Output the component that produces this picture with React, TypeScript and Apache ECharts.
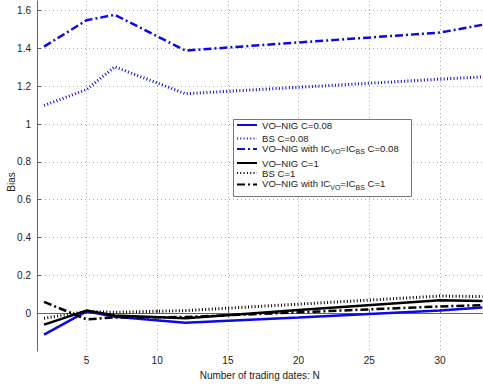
import React, { useEffect, useRef } from "react";
import * as echarts from "echarts";

const N = [2, 5, 7, 12, 20, 30, 33];
const voNig008 = [-0.113, 0.01, -0.018, -0.05, -0.022, 0.015, 0.03];
const bs008 = [1.098, 1.182, 1.302, 1.16, 1.194, 1.237, 1.249];
const voNigIC008 = [1.409, 1.548, 1.577, 1.388, 1.431, 1.483, 1.524];
const voNig1 = [-0.06, 0.014, -0.012, -0.026, 0.017, 0.069, 0.065];
const bs1 = [-0.026, 0.009, 0.005, 0.014, 0.048, 0.091, 0.088];
const voNigIC1 = [0.06, -0.032, -0.022, -0.02, 0.005, 0.036, 0.043];

const xTicks = [5, 10, 15, 20, 25, 30];
const yTicks = [0, 0.2, 0.4, 0.6, 0.8, 1, 1.2, 1.4, 1.6];

const names = [
  "VO–NIG C=0.08",
  "BS C=0.08",
  "VO–NIG with IC_VO=IC_BS C=0.08",
  "VO–NIG C=1",
  "BS C=1",
  "VO–NIG with IC_VO=IC_BS C=1",
];

const BLUE = "#0a0ae6";
const BLACK = "#000000";
const FONT = "Liberation Sans, Arial, Helvetica, sans-serif";

const dashDot = [8, 3, 2, 3];
const dotted = [1, 2.3];

function pairs(vals: number[]) {
  return N.map((n, i) => [n, vals[i]]);
}

export default function App() {
  const ref = useRef<HTMLDivElement>(null);
  useEffect(() => {
    if (!ref.current) return;
    const chart = echarts.init(ref.current, undefined, { renderer: "svg" });
    const styles = [
      { color: BLUE, type: "solid", width: 2.5 },
      { color: BLUE, type: dotted, width: 3 },
      { color: BLUE, type: dashDot, width: 2.5 },
      { color: BLACK, type: "solid", width: 2.5 },
      { color: BLACK, type: dotted, width: 3 },
      { color: BLACK, type: dashDot, width: 2.5 },
    ];
    const datas = [voNig008, bs008, voNigIC008, voNig1, bs1, voNigIC1];
    const series = datas.map((d, i) => ({
      name: names[i],
      type: "line",
      data: pairs(d),
      showSymbol: false,
      symbol: "none",
      lineStyle: styles[i],
      itemStyle: { color: styles[i].color },
      z: 2,
    }));
    // main text centre of each legend row
    const legendCenters = [125, 138.5, 149, 163, 173, 184.5];
    const legends = names.map((nm, i) => {
      const hasSub = nm.includes("_");
      return {
        show: true,
        orient: "vertical",
        left: 236,
        top: legendCenters[i] - 6,
        itemWidth: 20,
        itemHeight: 10,
        itemGap: 0,
        padding: 0,
        selectedMode: false,
        data: [nm],
        z: 5,
        itemStyle: {
          color: "rgba(0,0,0,0)",
          borderColor: "rgba(0,0,0,0)",
          borderWidth: 0,
          opacity: 0,
        },
        formatter: (name: string) => {
          if (!name.includes("_")) return name;
          const c = name.endsWith("0.08") ? "C=0.08" : "C=1";
          return "{m|VO–NIG with IC}{sub|VO}{m|=IC}{sub|BS}{m| " + c + "}";
        },
        textStyle: {
          fontFamily: FONT,
          fontSize: 9.6,
          color: "#222",
          lineHeight: 12,
          rich: hasSub
            ? {
                m: {
                  fontFamily: FONT,
                  fontSize: 9.6,
                  color: "#222",
                  lineHeight: 12,
                  verticalAlign: "top",
                },
                sub: {
                  fontFamily: FONT,
                  fontSize: 7,
                  color: "#222",
                  verticalAlign: "top",
                  lineHeight: 9,
                  padding: [5, 0, 6, 0],
                },
              }
            : {},
        },
      };
    });
    chart.setOption({
      animation: false,
      backgroundColor: "#ffffff",
      grid: { left: 37, right: 0.6, top: 1, bottom: 25.2, containLabel: false },
      xAxis: {
        type: "value",
        min: 1.5,
        max: 33,
        name: "Number of trading dates: N",
        nameLocation: "middle",
        nameGap: 16,
        nameTextStyle: { fontFamily: FONT, fontSize: 10, color: "#222", verticalAlign: "top" },
        axisLine: { show: true, lineStyle: { color: "#666", width: 1 } },
        axisTick: { show: true, inside: true, length: 4, customValues: xTicks, lineStyle: { color: "#666" } },
        axisLabel: { customValues: xTicks, margin: 4, fontFamily: FONT, fontSize: 10, color: "#222" },
        splitLine: { show: true, lineStyle: { color: "#aaa", type: [1, 3], width: 1 } },
      },
      yAxis: {
        type: "value",
        min: -0.2,
        max: 1.65,
        axisLine: { show: true, lineStyle: { color: "#666", width: 1 } },
        axisTick: { show: true, inside: true, length: 4, customValues: yTicks, lineStyle: { color: "#666" } },
        axisLabel: {
          customValues: yTicks,
          margin: 6,
          fontFamily: FONT,
          fontSize: 10,
          color: "#222",
          formatter: (v: number) => String(Math.round(v * 10) / 10),
        },
        splitLine: { show: true, lineStyle: { color: "#aaa", type: [1, 3], width: 1 } },
      },
      legend: legends,
      graphic: [
        {
          type: "rect",
          shape: { x: 233.5, y: 119.5, width: 178, height: 77 },
          style: { fill: "#ffffff", stroke: "#777", lineWidth: 1 },
          z: 3,
        },
        {
          type: "text",
          x: 11,
          y: 182,
          rotation: Math.PI / 2,
          style: {
            text: "Bias",
            fontFamily: FONT,
            fontSize: 10,
            fill: "#222",
            align: "center",
            verticalAlign: "middle",
          },
          z: 3,
        },
      ],
      series,
    });
    return () => chart.dispose();
  }, []);
  return (
    <div
      ref={ref}
      style={{ position: "absolute", left: 0, top: 0, width: 483, height: 385 }}
    />
  );
}
